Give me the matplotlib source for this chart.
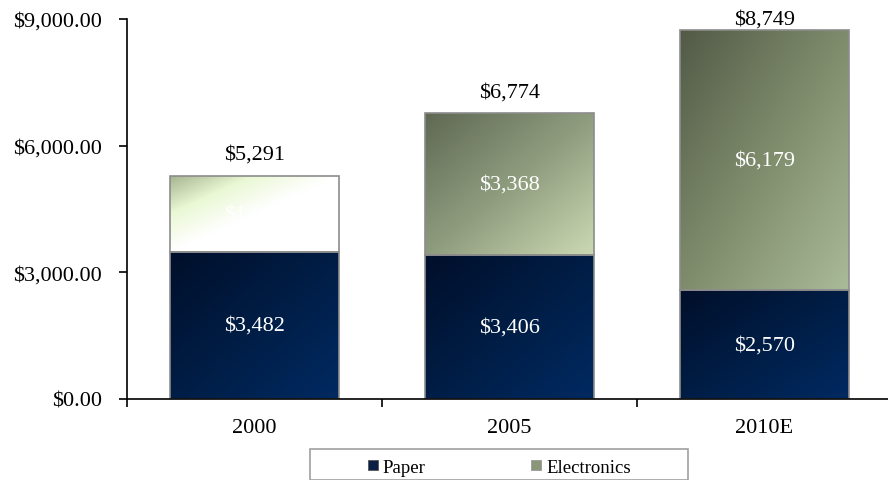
import numpy as np
import matplotlib
matplotlib.use("Agg")
import matplotlib.pyplot as plt
from matplotlib.colors import LinearSegmentedColormap
from matplotlib.lines import Line2D
from matplotlib.patches import Rectangle

# ---- data ----
categories = ["2000", "2005", "2010E"]
paper = [3482, 3406, 2570]
electronics = [1809, 3368, 6179]
totals = [5291, 6774, 8749]
series_names = ["Paper", "Electronics"]
y_ticks = [0, 3000, 6000, 9000]

# ---- styles ----
plt.rcParams["font.family"] = ["Liberation Serif", "DejaVu Serif"]
paper_grad = [["#000f2a", "#001d45", "#002a62"]] * 3
elec_grad = [
    ["#a4b48e", "#eaf8d4", "#ffffff", "#ffffff", "#ffffff"],
    ["#5f6853", "#8e9c7e", "#cbd9b3"],
    ["#525a47", "#7f8c6c", "#aabb99"],
]
edge = "#8c8c8c"

fig = plt.figure(figsize=(8.88, 4.81), dpi=100)
ax = fig.add_axes([127 / 888, 1 - 400 / 481, 765 / 888, 380 / 481])

x = np.arange(len(categories))
width = 0.66


def grad_fill(bar, colors):
    bx, by = bar.get_x(), bar.get_y()
    bw, bh = bar.get_width(), bar.get_height()
    n = 200
    gx, gy = np.meshgrid(np.linspace(0, 1, n), np.linspace(0, 1, n))
    t = (gx + gy) / 2
    cmap = LinearSegmentedColormap.from_list("g", colors)
    im = ax.imshow(t, cmap=cmap, vmin=0, vmax=1, extent=(bx, bx + bw, by, by + bh),
                   origin="upper", aspect="auto", interpolation="bilinear", zorder=1)
    im.set_clip_path(bar)


bars_p = ax.bar(x, paper, width, facecolor="none", edgecolor=edge, linewidth=1.2, zorder=2)
bars_e = ax.bar(x, electronics, width, bottom=paper, facecolor="none", edgecolor=edge,
                linewidth=1.2, zorder=2)
for i, b in enumerate(bars_p):
    grad_fill(b, paper_grad[i])
for i, b in enumerate(bars_e):
    grad_fill(b, elec_grad[i])

lab_fs = 16
for i in range(len(categories)):
    ax.text(x[i], paper[i] / 2, f"${paper[i]:,}", ha="center", va="center",
            color="white", fontsize=lab_fs, zorder=3)
    ax.text(x[i], paper[i] + electronics[i] / 2, f"${electronics[i]:,}", ha="center",
            va="center", color="white", fontsize=lab_fs, zorder=3)
    ax.text(x[i], min(totals[i] + 500, y_ticks[-1]), f"${totals[i]:,}", ha="center",
            va="center", color="black", fontsize=lab_fs, zorder=3, clip_on=False)

ax.set_xlim(-0.5, len(categories) - 0.5)
ax.set_ylim(0, 9000)
ax.set_yticks(y_ticks)
ax.set_yticklabels([f"${v:,.2f}" for v in y_ticks], fontsize=lab_fs)
ax.set_xticks(np.arange(-0.5, len(categories), 1.0))
ax.set_xticklabels([])
ax.set_xticks(x, minor=True)
ax.set_xticklabels(categories, minor=True, fontsize=lab_fs)
ax.tick_params(axis="x", which="major", direction="out", length=6, width=1.2)
ax.tick_params(axis="x", which="minor", length=0, pad=14)
ax.tick_params(axis="y", direction="out", length=6, width=1.2, pad=12)
for s in ["top", "right"]:
    ax.spines[s].set_visible(False)
for s in ["left", "bottom"]:
    ax.spines[s].set_linewidth(1.2)

# legend
handles = [
    Line2D([], [], linestyle="none", marker="s", markersize=7.5,
           markerfacecolor="#0a1f45", markeredgecolor="#555555", markeredgewidth=0.6),
    Line2D([], [], linestyle="none", marker="s", markersize=7.5,
           markerfacecolor="#8a9678", markeredgecolor="#999999", markeredgewidth=0.6),
]
fig.add_artist(Rectangle((310 / 888, 0), 378 / 888, 31 / 481, transform=fig.transFigure,
                         facecolor="white", edgecolor="#a0a0a0", linewidth=1.2))
leg = fig.legend(handles, series_names, loc="center left",
                 bbox_to_anchor=(365 / 888, 1 - 468 / 481), ncol=2, frameon=False,
                 fontsize=13.5, handlelength=0.8, handletextpad=0.15, columnspacing=5.5,
                 borderpad=0, borderaxespad=0)

fig.savefig("out.png", dpi=100)
